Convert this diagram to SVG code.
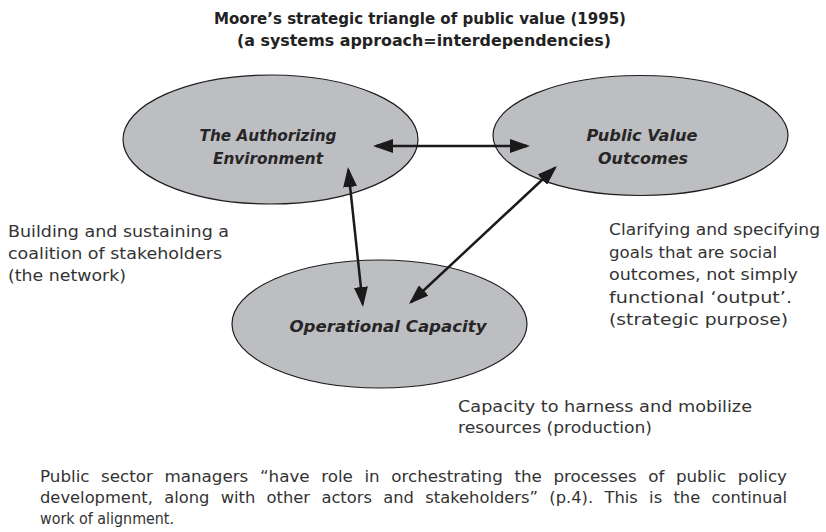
<svg xmlns="http://www.w3.org/2000/svg" width="826" height="532" viewBox="0 0 826 532">
  <style>
    .node ellipse { fill: #bdbec2; stroke: #1e1e1e; stroke-width: 1.2; }
    .node text { font-family: "DejaVu Sans", "Liberation Sans", sans-serif; font-size: 15px; font-weight: bold; font-style: italic; fill: #262626; text-anchor: middle; }
    .title { font-family: "DejaVu Sans", "Liberation Sans", sans-serif; font-size: 15px; font-weight: bold; fill: #222; text-anchor: middle; }
    .note { font-family: "DejaVu Sans", "Liberation Sans", sans-serif; font-size: 16px; fill: #333; }
    .para { font-family: "DejaVu Sans", "Liberation Sans", sans-serif; font-size: 16px; fill: #333; }
    .just { word-spacing: 6px; }
    .link { stroke: #1a1a1a; stroke-width: 2.5; fill: none; marker-start: url(#head); marker-end: url(#head); }
  </style>
  <defs>
    <marker id="head" markerUnits="userSpaceOnUse" markerWidth="20" markerHeight="14" refX="17" refY="7" orient="auto-start-reverse">
      <path d="M0,0 L20,7 L0,14 z" fill="#1a1a1a"/>
    </marker>
  </defs>

  <rect width="826" height="532" fill="#ffffff"/>

  <!-- title -->
  <text class="title" x="420" y="24" textLength="412" lengthAdjust="spacingAndGlyphs">Moore’s strategic triangle of public value (1995)</text>
  <text class="title" x="424" y="46" textLength="374" lengthAdjust="spacingAndGlyphs">(a systems approach=interdependencies)</text>

  <!-- the three corners of the triangle -->
  <g id="authorizing-environment" class="node">
    <ellipse cx="270.5" cy="139.5" rx="147.5" ry="64.5"/>
    <text x="268" y="141" textLength="137" lengthAdjust="spacingAndGlyphs">The Authorizing</text>
    <text x="268" y="164" textLength="110" lengthAdjust="spacingAndGlyphs">Environment</text>
  </g>

  <g id="public-value-outcomes" class="node">
    <ellipse cx="640.5" cy="135.5" rx="147.5" ry="60"/>
    <text x="642" y="141" textLength="111" lengthAdjust="spacingAndGlyphs">Public Value</text>
    <text x="643" y="164" textLength="90" lengthAdjust="spacingAndGlyphs">Outcomes</text>
  </g>

  <g id="operational-capacity" class="node">
    <ellipse cx="379.5" cy="324" rx="147.5" ry="64"/>
    <text x="388" y="332" textLength="197" lengthAdjust="spacingAndGlyphs">Operational Capacity</text>
  </g>

  <!-- two-way links between the corners -->
  <g id="connectors">
    <line class="link" x1="376" y1="146" x2="527" y2="146"/>
    <line class="link" x1="348.3" y1="170" x2="362.7" y2="304"/>
    <line class="link" x1="554.8" y1="168" x2="411.2" y2="302"/>
  </g>

  <!-- side notes -->
  <g id="note-network">
    <text class="note" x="8" y="237" textLength="221" lengthAdjust="spacingAndGlyphs">Building and sustaining a</text>
    <text class="note" x="8" y="259" textLength="214" lengthAdjust="spacingAndGlyphs">coalition of stakeholders</text>
    <text class="note" x="8" y="281" textLength="118" lengthAdjust="spacingAndGlyphs">(the network)</text>
  </g>

  <g id="note-purpose">
    <text class="note" x="609" y="235" textLength="211" lengthAdjust="spacingAndGlyphs">Clarifying and specifying</text>
    <text class="note" x="609" y="258" textLength="168" lengthAdjust="spacingAndGlyphs">goals that are social</text>
    <text class="note" x="609" y="280" textLength="189" lengthAdjust="spacingAndGlyphs">outcomes, not simply</text>
    <text class="note" x="609" y="303" textLength="183" lengthAdjust="spacingAndGlyphs">functional ‘output’.</text>
    <text class="note" x="609" y="325" textLength="179" lengthAdjust="spacingAndGlyphs">(strategic purpose)</text>
  </g>

  <g id="note-production">
    <text class="note" x="458" y="412" textLength="294" lengthAdjust="spacingAndGlyphs">Capacity to harness and mobilize</text>
    <text class="note" x="458" y="433" textLength="194" lengthAdjust="spacingAndGlyphs">resources (production)</text>
  </g>

  <!-- closing paragraph, first two lines justified -->
  <g id="paragraph">
    <text class="para just" x="40" y="482" textLength="747" lengthAdjust="spacingAndGlyphs">Public sector managers “have role in orchestrating the processes of public policy</text>
    <text class="para just" x="40" y="503" textLength="747" lengthAdjust="spacingAndGlyphs">development, along with other actors and stakeholders” (p.4). This is the continual</text>
    <text class="para" x="40" y="524" textLength="134" lengthAdjust="spacingAndGlyphs">work of alignment.</text>
  </g>
</svg>
